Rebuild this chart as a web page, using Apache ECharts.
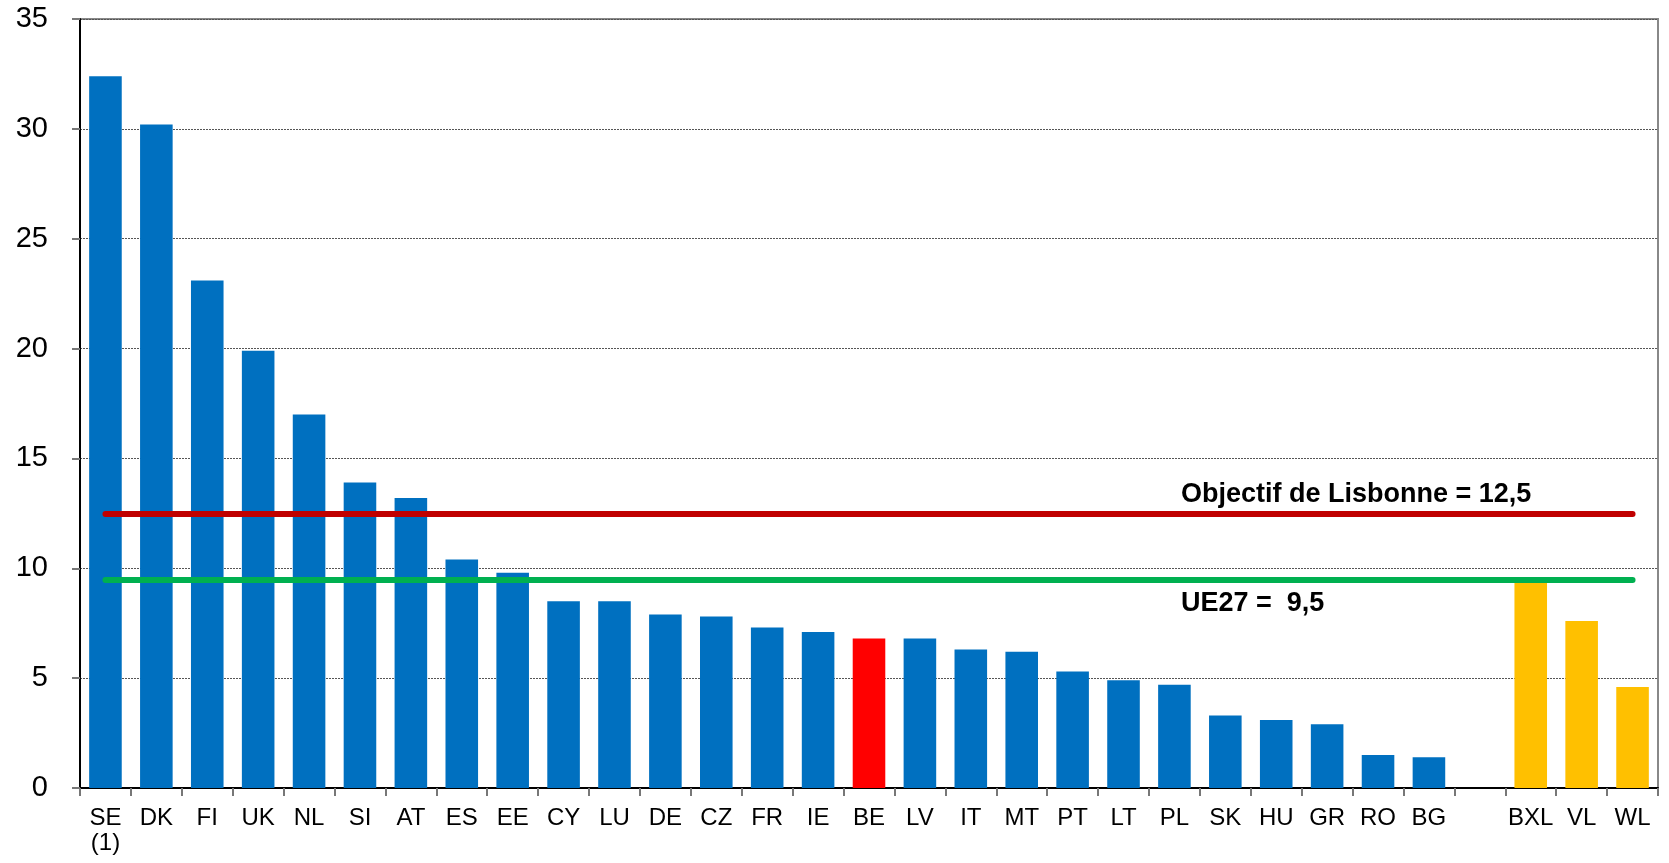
<!DOCTYPE html>
<html>
<head>
<meta charset="utf-8">
<script src="https://cdn.jsdelivr.net/npm/echarts@6/dist/echarts.min.js"></script>
<style>
  html, body { margin: 0; padding: 0; background: #fff; }
  #chart { width: 1669px; height: 863px; }
</style>
</head>
<body>
<div id="chart"></div>
<script>
// categories (the empty slot separates EU countries from Belgian regions)
var categories = ['SE\n(1)', 'DK', 'FI', 'UK', 'NL', 'SI', 'AT', 'ES', 'EE', 'CY', 'LU', 'DE', 'CZ', 'FR', 'IE',
  'BE', 'LV', 'IT', 'MT', 'PT', 'LT', 'PL', 'SK', 'HU', 'GR', 'RO', 'BG', '', 'BXL', 'VL', 'WL'];
var countryValues = [32.4, 30.2, 23.1, 19.9, 17.0, 13.9, 13.2, 10.4, 9.8, 8.5, 8.5, 7.9, 7.8, 7.3, 7.1,
  6.8, 6.8, 6.3, 6.2, 5.3, 4.9, 4.7, 3.3, 3.1, 2.9, 1.5, 1.4];
var regionValues = [9.4, 7.6, 4.6];
var yTicks = [0, 5, 10, 15, 20, 25, 30, 35];
var lisbonTarget = 12.5;
var eu27Average = 9.5;

var blue = '#0070C0', red = '#FF0000', yellow = '#FFC000';
var font = 'Liberation Sans, Arial, sans-serif';

// build bar data: countries blue (BE red), blank slot, regions yellow
var barData = [];
countryValues.forEach(function (v, i) {
  barData.push({ value: v, itemStyle: { color: categories[i] === 'BE' ? red : blue } });
});
barData.push({ value: null });
regionValues.forEach(function (v) {
  barData.push({ value: v, itemStyle: { color: yellow } });
});

var first = categories[0], last = categories[categories.length - 1];

var myChart = echarts.init(document.getElementById('chart'));
var option = {
  animation: false,
  grid: {
    left: 80,
    right: 11,
    top: 19,
    bottom: 75,
    show: true,
    borderColor: '#888',
    borderWidth: 2,
    containLabel: false
  },
  xAxis: {
    type: 'category',
    data: categories,
    axisLine: { lineStyle: { color: '#000', width: 2 } },
    axisTick: { show: true, alignWithLabel: false, length: 8, lineStyle: { color: '#777', width: 2 } },
    axisLabel: {
      interval: 0,
      color: '#000',
      fontFamily: font,
      fontSize: 24,
      lineHeight: 25,
      margin: 18
    }
  },
  yAxis: {
    type: 'value',
    min: yTicks[0],
    max: yTicks[yTicks.length - 1],
    interval: 5,
    axisLine: { show: true, lineStyle: { color: '#000', width: 2 } },
    axisTick: { show: true, length: 8, lineStyle: { color: '#777', width: 2 } },
    axisLabel: { color: '#000', fontFamily: font, fontSize: 29, margin: 32, padding: [4, 0, 0, 0] },
    splitLine: { lineStyle: { color: '#555', width: 1, type: [2, 1] } }
  },
  series: [
    {
      type: 'bar',
      data: barData,
      barWidth: '64%',
      markLine: {
        silent: true,
        symbol: 'none',
        label: { show: false },
        data: [
          [{ coord: [first, lisbonTarget] }, { coord: [last, lisbonTarget] }],
          [{ coord: [first, eu27Average] }, { coord: [last, eu27Average] }]
        ],
        lineStyle: { type: 'solid', width: 6, cap: 'round' },
        emphasis: { disabled: true }
      }
    }
  ],
  graphic: [
    {
      type: 'text',
      left: 1181,
      top: 481,
      style: { text: 'Objectif de Lisbonne = 12,5', font: 'bold 27px ' + font, fill: '#000' }
    },
    {
      type: 'text',
      left: 1181,
      top: 590,
      style: { text: 'UE27 =  9,5', font: 'bold 27px ' + font, fill: '#000' }
    }
  ]
};
// colour the two reference lines
option.series[0].markLine.data[0][0].lineStyle = { color: '#C00000', width: 6, cap: 'round' };
option.series[0].markLine.data[1][0].lineStyle = { color: '#00B050', width: 6, cap: 'round' };
myChart.setOption(option);
</script>
</body>
</html>
